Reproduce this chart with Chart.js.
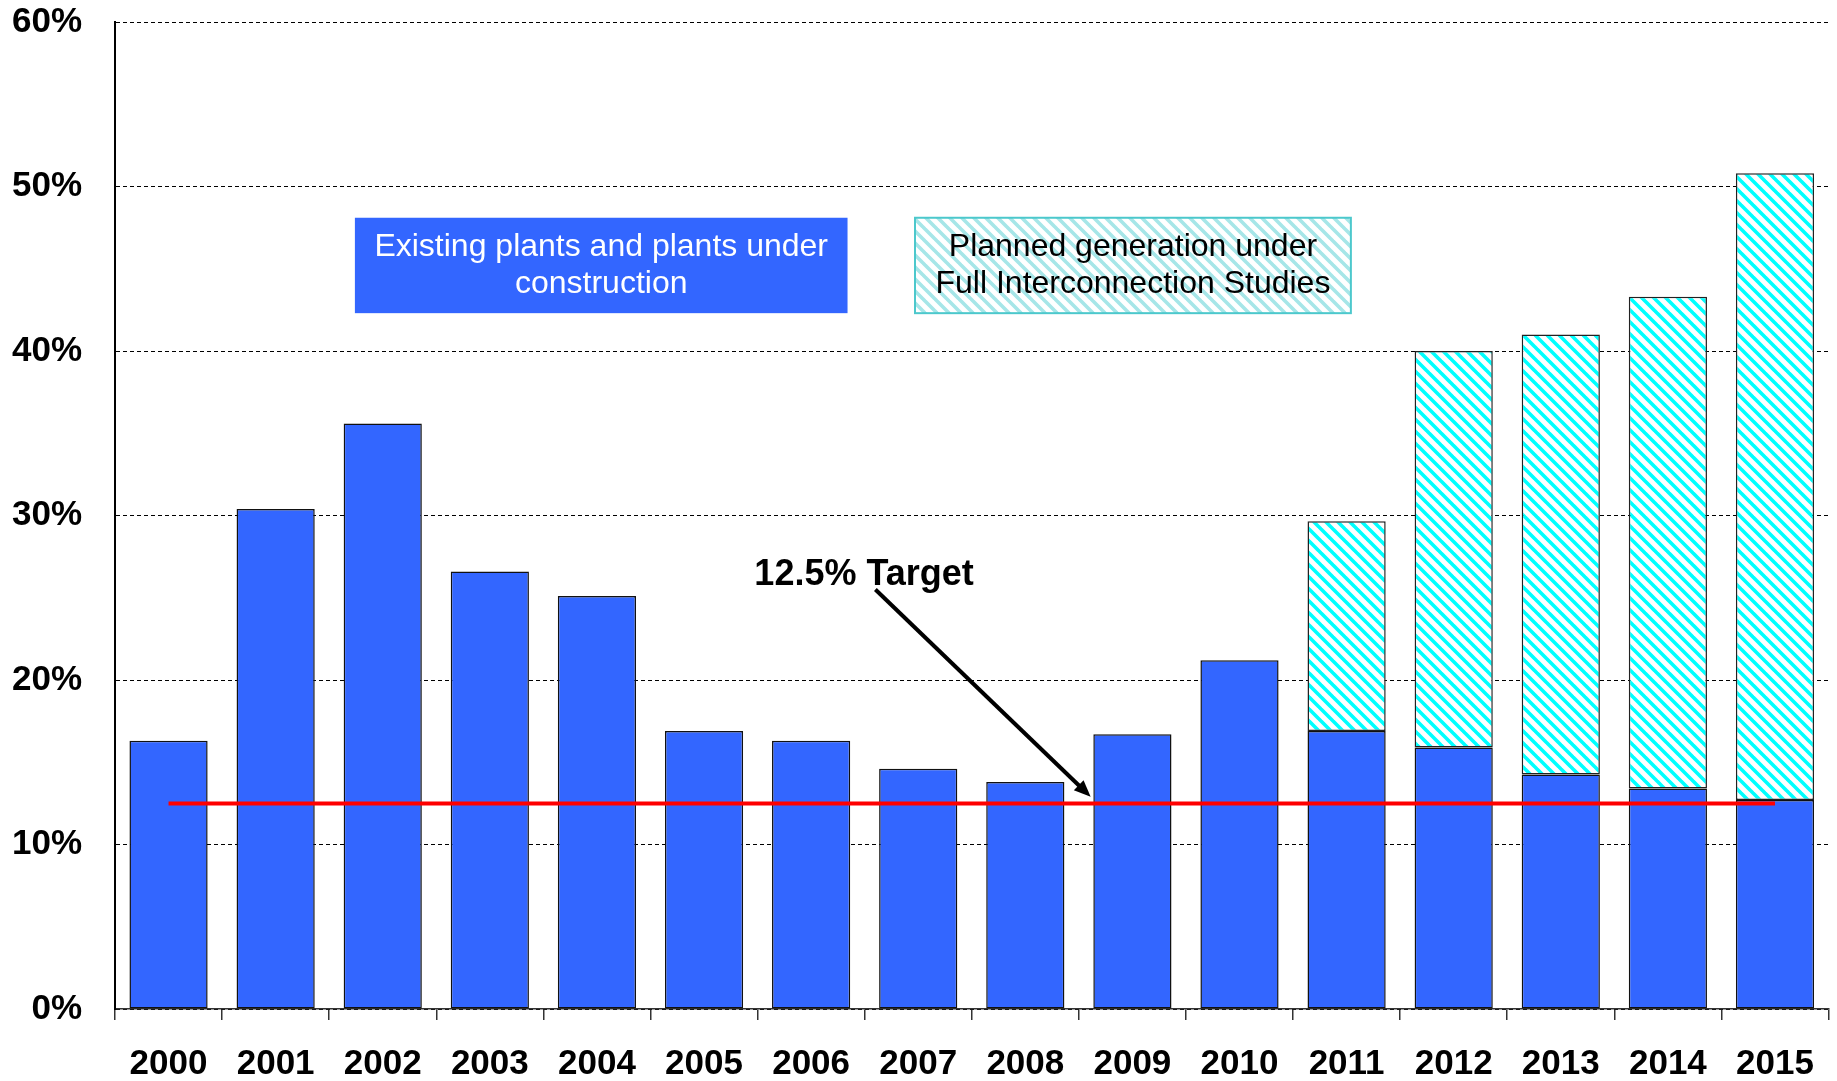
<!DOCTYPE html>
<html>
<head>
<meta charset="utf-8">
<script src="https://cdn.jsdelivr.net/npm/chart.js@4.4.0/dist/chart.umd.min.js"></script>
<style>
  html, body { margin: 0; padding: 0; background: #fff; }
  #wrap { width: 1837px; height: 1081px; }
</style>
</head>
<body>
<div id="wrap"><canvas id="planChart"></canvas></div>
<script>
// Years on the x-axis
const years = ['2000', '2001', '2002', '2003', '2004', '2005', '2006', '2007',
               '2008', '2009', '2010', '2011', '2012', '2013', '2014', '2015'];

// Existing plants and plants under construction (%)
const existing = [16.3, 30.4, 35.6, 26.6, 25.1, 16.9, 16.3, 14.6,
                  13.8, 16.7, 21.2, 16.9, 15.9, 14.25, 13.4, 12.7];

// Planned generation under Full Interconnection Studies (% on top of existing)
const planned = [null, null, null, null, null, null, null, null,
                 null, null, null, 12.75, 24.1, 26.75, 29.9, 38.1];

// 12.5% target line
const target = [12.5, 12.5, 12.5, 12.5, 12.5, 12.5, 12.5, 12.5,
                12.5, 12.5, 12.5, 12.5, 12.5, 12.5, 12.5, 12.5];

const yTicks = [0, 10, 20, 30, 40, 50, 60];

const legendExisting = ['Existing plants and plants under', 'construction'];
const legendPlanned = ['Planned generation under', 'Full Interconnection Studies'];
const targetLabel = '12.5% Target';

const FONT = '"Liberation Sans", Arial, Helvetica, sans-serif';
const BLUE = '#3366FF';

// diagonal stripes like the original fill pattern
function makeHatch(color, size, lw) {
    const c = document.createElement('canvas');
    c.width = size;
    c.height = size;
    const g = c.getContext('2d');
    g.fillStyle = '#fff';
    g.fillRect(0, 0, size, size);
    g.strokeStyle = color;
    g.lineWidth = lw;
    g.beginPath();
    for (const o of [-size, 0, size]) {
        g.moveTo(o - 1, -1);
        g.lineTo(o + size + 1, size + 1);
    }
    g.stroke();
    return g.createPattern(c, 'repeat');
}

const barHatch = makeHatch('#00FFFF', 12, 3.6);
const boxHatch = makeHatch('#A6E6E8', 12, 3.6);

// text boxes, label and arrow, placed in data units (category index, percent)
const annotate = {
    id: 'annotate',
    afterDatasetsDraw(chart) {
        const ctx = chart.ctx;
        const x = chart.scales.x, y = chart.scales.y;
        ctx.save();

        // Existing plants box
        let x0 = x.getPixelForValue(1.74), x1 = x.getPixelForValue(6.34);
        let y0 = y.getPixelForValue(48.1), y1 = y.getPixelForValue(42.3);
        ctx.fillStyle = BLUE;
        ctx.fillRect(x0, y0, x1 - x0, y1 - y0);
        ctx.fillStyle = '#fff';
        ctx.font = '32px ' + FONT;
        ctx.textAlign = 'center';
        ctx.textBaseline = 'middle';
        let cx = (x0 + x1) / 2, cy = (y0 + y1) / 2;
        ctx.fillText(legendExisting[0], cx, cy - 18);
        ctx.fillText(legendExisting[1], cx, cy + 19);

        // Planned generation box
        x0 = x.getPixelForValue(6.97); x1 = x.getPixelForValue(11.04);
        ctx.fillStyle = boxHatch;
        ctx.fillRect(x0, y0, x1 - x0, y1 - y0);
        ctx.strokeStyle = '#4CC8CC';
        ctx.lineWidth = 2;
        ctx.strokeRect(x0, y0, x1 - x0, y1 - y0);
        ctx.fillStyle = '#000';
        cx = (x0 + x1) / 2;
        ctx.fillText(legendPlanned[0], cx, cy - 18);
        ctx.fillText(legendPlanned[1], cx, cy + 19);

        // Target label
        ctx.font = 'bold 36px ' + FONT;
        ctx.textAlign = 'left';
        ctx.textBaseline = 'alphabetic';
        ctx.fillText(targetLabel, x.getPixelForValue(5.47), y.getPixelForValue(25.8));

        // arrow
        const ax0 = x.getPixelForValue(6.6), ay0 = y.getPixelForValue(25.5);
        const ax1 = x.getPixelForValue(8.61), ay1 = y.getPixelForValue(12.9);
        const ang = Math.atan2(ay1 - ay0, ax1 - ax0);
        const head = 18;
        ctx.strokeStyle = '#000';
        ctx.lineWidth = 4;
        ctx.beginPath();
        ctx.moveTo(ax0, ay0);
        ctx.lineTo(ax1 - Math.cos(ang) * head * 0.8, ay1 - Math.sin(ang) * head * 0.8);
        ctx.stroke();
        ctx.fillStyle = '#000';
        ctx.beginPath();
        ctx.moveTo(ax1, ay1);
        ctx.lineTo(ax1 - head * Math.cos(ang - 0.4), ay1 - head * Math.sin(ang - 0.4));
        ctx.lineTo(ax1 - head * Math.cos(ang + 0.4), ay1 - head * Math.sin(ang + 0.4));
        ctx.closePath();
        ctx.fill();

        ctx.restore();
    }
};

var ctx = document.getElementById('planChart').getContext('2d');
var myChart = new Chart(ctx, {
    type: 'bar',
    data: {
        labels: years,
        datasets: [{
            type: 'line',
            label: 'Target',
            data: target,
            borderColor: '#FF0000',
            borderWidth: 4,
            pointRadius: 0,
            fill: false,
            stack: 'target',
            order: 0
        }, {
            label: 'Existing plants and plants under construction',
            data: existing,
            backgroundColor: BLUE,
            borderColor: '#111',
            borderWidth: 1.5,
            borderSkipped: false,
            stack: 'gen',
            order: 1
        }, {
            label: 'Planned generation under Full Interconnection Studies',
            data: planned,
            backgroundColor: barHatch,
            borderColor: '#222',
            borderWidth: 1.5,
            borderSkipped: false,
            stack: 'gen',
            order: 1
        }]
    },
    options: {
        responsive: true,
        maintainAspectRatio: false,
        animation: false,
        layout: { padding: { top: 22, right: 3, left: 0, bottom: 0 } },
        datasets: {
            bar: { categoryPercentage: 1, barPercentage: 0.73 }
        },
        scales: {
            x: {
                stacked: true,
                grid: {
                    offset: true,
                    drawOnChartArea: false,
                    drawTicks: true,
                    tickLength: 11,
                    color: '#333',
                    lineWidth: 1.5
                },
                border: { display: true, color: '#333', width: 1.5 },
                ticks: {
                    color: '#000',
                    font: { family: FONT, size: 35, weight: 'bold' },
                    padding: 23,
                    maxRotation: 0,
                    autoSkip: false
                },
                afterFit: function(scale) { scale.height = 72; }
            },
            y: {
                stacked: true,
                min: 0,
                max: 60,
                afterBuildTicks: function(scale) {
                    scale.ticks = yTicks.map(v => ({ value: v }));
                },
                grid: {
                    color: '#000',
                    lineWidth: 1,
                    drawTicks: false
                },
                // in v4 border.dash dashes the grid lines, the axis line stays solid
                border: { display: true, color: '#000', width: 2, dash: [4, 3] },
                ticks: {
                    color: '#000',
                    font: { family: FONT, size: 35, weight: 'bold' },
                    padding: 33,
                    callback: v => v + '%'
                },
                afterFit: function(scale) {
                    scale.width = 115;
                    // tick padding should not push the plot area down
                    scale.paddingTop = 0;
                    scale.paddingBottom = 0;
                }
            }
        },
        plugins: {
            legend: { display: false },
            tooltip: { enabled: false }
        }
    },
    plugins: [annotate]
});
</script>
</body>
</html>
